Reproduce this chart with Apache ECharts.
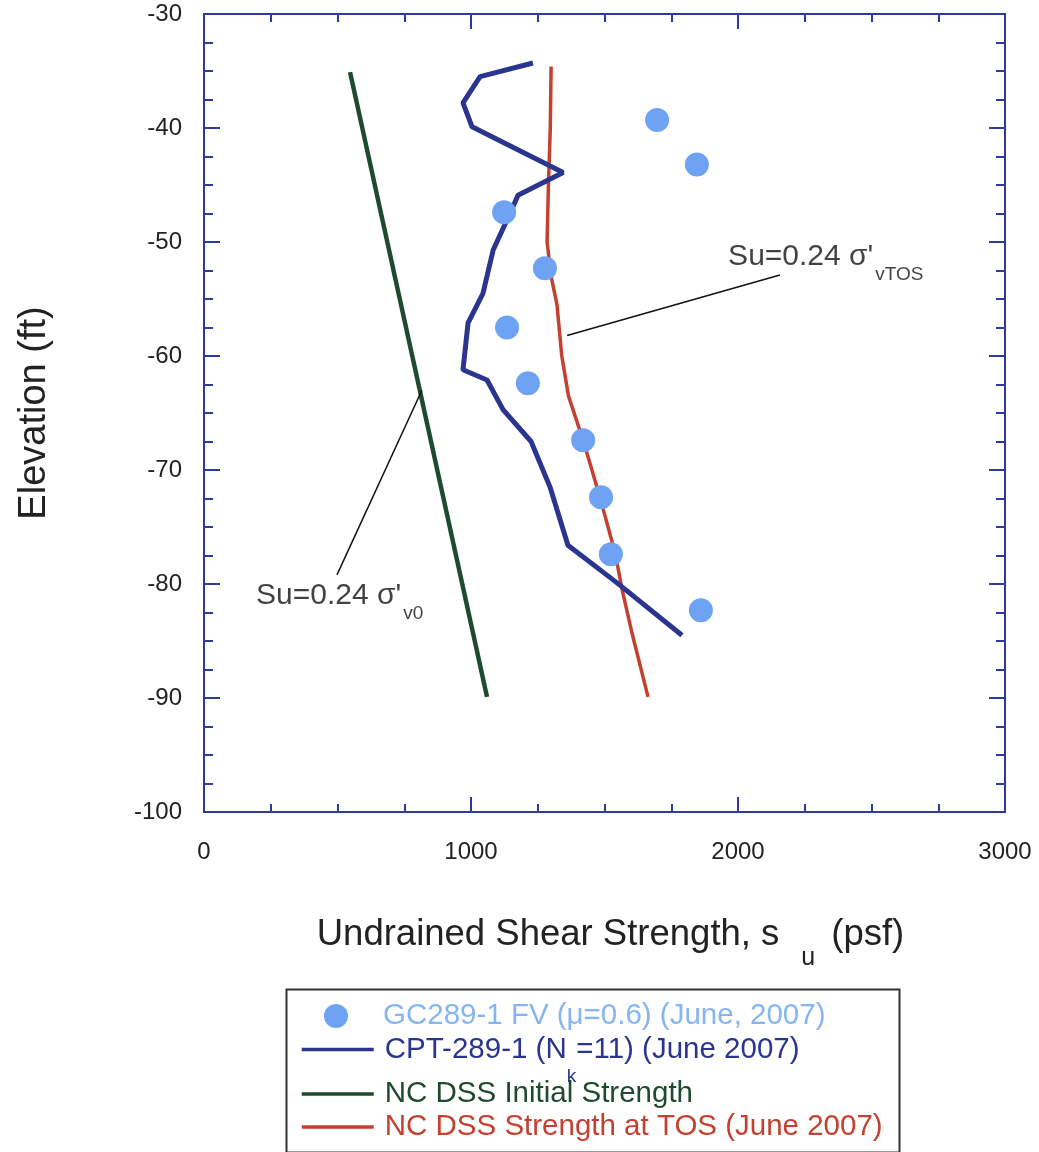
<!DOCTYPE html>
<html>
<head>
<meta charset="utf-8">
<script src="https://cdn.jsdelivr.net/npm/echarts@6/dist/echarts.min.js"></script>
<style>
  html, body { margin: 0; padding: 0; background: #fff; }
  #chart { width: 1039px; height: 1152px; }
</style>
</head>
<body>
<div id="chart"></div>
<script>
// Field vane strengths, [su (psf), elevation (ft)]
const fieldVane = [
  [1697, -39.3], [1846, -43.2], [1124, -47.4], [1277, -52.3], [1135, -57.5],
  [1213, -62.4], [1420, -67.4], [1487, -72.4], [1524, -77.4], [1861, -82.3]
];
// CPT-derived profile (Nk = 11)
const cptProfile = [
  [1232, -34.3], [1034, -35.5], [970, -37.8], [1004, -39.9], [1345, -43.9],
  [1176, -45.9], [1146, -47.5], [1083, -50.7], [1045, -54.5], [989, -57.1],
  [970, -61.2], [1060, -62.1], [1120, -64.7], [1225, -67.5], [1296, -71.5],
  [1363, -76.6], [1547, -79.9], [1790, -84.5]
];
// Normally consolidated DSS strength, initial state
const ncInitial = [[547, -35.1], [1060, -89.9]];
// Normally consolidated DSS strength at time of survey
const ncTOS = [
  [1300, -34.6], [1297, -40], [1290, -45], [1285, -50], [1300, -53],
  [1322, -55.5], [1340, -60], [1365, -63.5], [1420, -67.4], [1483, -72.4],
  [1540, -77.3], [1566, -80.5], [1603, -84.3], [1663, -89.9]
];
// Annotation anchors and their leader lines
const noteAnchors = [[1963, -51.3], [195, -81.0]];
const noteMain = ["Su=0.24 σ'", "Su=0.24 σ'"];
const noteSub = ['vTOS', 'v0'];
const leaderTOS = [[2157, -52.9], [1360, -58.2]];
const leaderInitial = [[498, -79.2], [816, -63.0]];

const seriesNames = [
  'GC289-1 FV (μ=0.6) (June, 2007)',
  'CPT-289-1 (Nk=11) (June 2007)',
  'NC DSS Initial Strength',
  'NC DSS Strength at TOS (June 2007)'
];

const FONT = "'Liberation Sans', Arial, sans-serif";
const AXIS_COLOR = '#2e3b9e';
const C_DOT = '#6ea2f2';
const C_CPT = '#2b3590';
const C_INIT = '#1e4a30';
const C_TOS = '#c4402f';

const axisLineStyle = { color: AXIS_COLOR, width: 2 };

function xAxisDef(position, showLabel) {
  return {
    type: 'value', position: position, min: 0, max: 3000, interval: 1000,
    axisLine: { show: true, onZero: false, lineStyle: axisLineStyle },
    axisTick: { show: true, inside: true, length: 15, lineStyle: axisLineStyle },
    minorTick: { show: true, splitNumber: 4, length: 8, lineStyle: axisLineStyle },
    splitLine: { show: false },
    axisLabel: {
      show: showLabel, margin: 28, fontSize: 24, color: '#222', fontFamily: FONT,
      formatter: function (v) { return String(v); }
    }
  };
}
function yAxisDef(position, showLabel) {
  return {
    type: 'value', position: position, min: -100, max: -30, interval: 10,
    axisLine: { show: true, onZero: false, lineStyle: axisLineStyle },
    axisTick: { show: true, inside: true, length: 16, lineStyle: axisLineStyle },
    minorTick: { show: true, splitNumber: 4, length: 9, lineStyle: axisLineStyle },
    splitLine: { show: false },
    axisLabel: {
      show: showLabel, margin: 22, fontSize: 24, color: '#222', fontFamily: FONT,
      formatter: function (v) { return String(v); }
    }
  };
}

const xBottom = xAxisDef('bottom', true);
xBottom.name = '{a0|Undrained Shear Strength, s}{b|u}{a|(psf)}';
xBottom.nameLocation = 'middle';
xBottom.nameGap = 86;
xBottom.nameTextStyle = {
  fontFamily: FONT, color: '#222',
  rich: {
    a0: { fontSize: 36.5, fontFamily: FONT, color: '#222', padding: [0, 0, 0, 12] },
    a: { fontSize: 36.5, fontFamily: FONT, color: '#222' },
    b: { fontSize: 25, fontFamily: FONT, color: '#222', padding: [48, 16, 0, 22] }
  }
};
const yLeft = yAxisDef('left', true);
yLeft.name = 'Elevation (ft)';
yLeft.nameLocation = 'middle';
yLeft.nameGap = 150;
yLeft.nameTextStyle = { fontSize: 38, fontFamily: FONT, color: '#222' };

function legendDef(name, left, top, color, isLine) {
  const l = {
    data: [name], orient: 'vertical', left: left, top: top, padding: 0,
    itemWidth: 72, itemHeight: 24, selectedMode: false,
    textStyle: { fontSize: 29.5, fontFamily: FONT, color: color, lineHeight: 30, padding: [0, 0, 0, 6] }
  };
  if (isLine) {
    l.itemStyle = { color: 'rgba(0,0,0,0)', borderWidth: 0 };
    l.lineStyle = { width: 3.5 };
  }
  return l;
}

const legendCPT = legendDef(seriesNames[1], 300, 1050 - 37, C_CPT, true);
legendCPT.formatter = function () {
  return '{a|CPT-289-1 (N}{k|k}{a|=11) (June 2007)}';
};
legendCPT.textStyle.rich = {
  a: { fontSize: 29.5, fontFamily: FONT, color: C_CPT, lineHeight: 24 },
  k: { fontSize: 19, fontFamily: FONT, color: C_CPT, lineHeight: 20, padding: [54, 0, 0, 0] }
};
legendCPT.textStyle.lineHeight = undefined;

const option = {
  animation: false,
  backgroundColor: '#fff',
  grid: { left: 204, top: 14, width: 801, height: 798, containLabel: false },
  xAxis: [xBottom, xAxisDef('top', false)],
  yAxis: [yLeft, yAxisDef('right', false)],
  legend: [
    legendDef(seriesNames[0], 324, 1016 - 15, '#86b6f2', false),
    legendCPT,
    legendDef(seriesNames[2], 300, 1094 - 15, C_INIT, true),
    legendDef(seriesNames[3], 300, 1127 - 15, C_TOS, true)
  ],
  graphic: [{
    type: 'rect', left: 284, top: 987, z: 100, silent: true,
    shape: { width: 613, height: 163 },
    style: { fill: 'none', stroke: '#333', lineWidth: 2 }
  }],
  series: [
    {
      name: seriesNames[3], type: 'line', data: ncTOS, symbol: 'none',
      lineStyle: { color: C_TOS, width: 3.5 }, itemStyle: { color: C_TOS }, z: 2
    },
    {
      name: seriesNames[2], type: 'line', data: ncInitial, symbol: 'none',
      lineStyle: { color: C_INIT, width: 4.5 }, itemStyle: { color: C_INIT }, z: 2
    },
    {
      name: seriesNames[1], type: 'line', data: cptProfile, symbol: 'none',
      lineStyle: { color: C_CPT, width: 5 }, itemStyle: { color: C_CPT }, z: 3
    },
    {
      name: seriesNames[0], type: 'scatter', data: fieldVane, symbol: 'circle',
      symbolSize: 24, itemStyle: { color: C_DOT, opacity: 1 }, z: 4
    },
    {
      name: 'leader-tos', type: 'line', data: leaderTOS, symbol: 'none', silent: true,
      lineStyle: { color: '#111', width: 1.5 }, z: 5
    },
    {
      name: 'leader-initial', type: 'line', data: leaderInitial, symbol: 'none', silent: true,
      lineStyle: { color: '#111', width: 1.5 }, z: 5
    },
    {
      name: 'notes', type: 'scatter', symbolSize: 0, silent: true, z: 6,
      data: noteAnchors,
      label: {
        show: true, position: 'right', distance: 0,
        formatter: function (p) {
          return '{m|' + noteMain[p.dataIndex] + '}{s|' + noteSub[p.dataIndex] + '}';
        },
        rich: {
          m: { fontSize: 30, fontFamily: FONT, color: '#111' },
          s: { fontSize: 19, fontFamily: FONT, color: '#111', padding: [36, 0, 0, 2] }
        }
      }
    }
  ]
};

const chart = echarts.init(document.getElementById('chart'), null, { renderer: 'canvas' });
chart.setOption(option);
</script>
</body>
</html>
